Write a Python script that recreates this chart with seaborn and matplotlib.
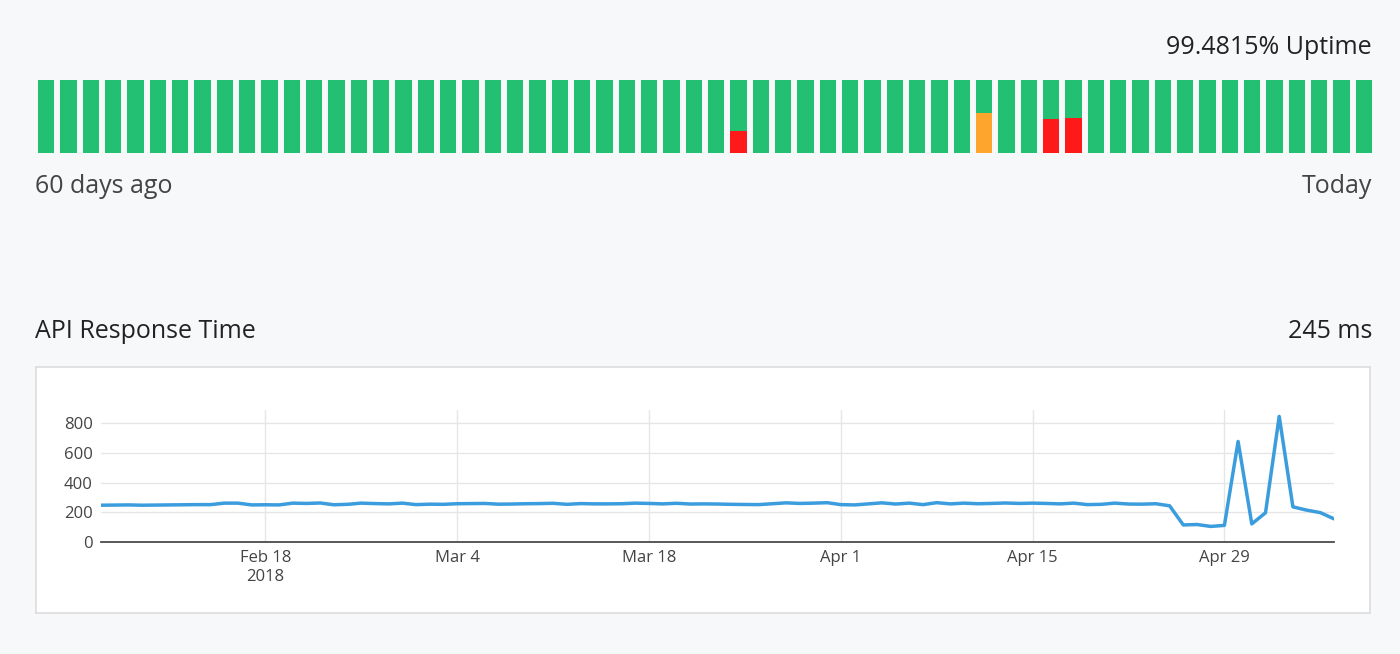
import numpy as np
import pandas as pd
import matplotlib
matplotlib.use('agg')
import matplotlib.pyplot as plt
import seaborn as sns

# ---- data ----
# 60 daily uptime bars; fraction of the bar that is "down" (coloured) and its colour
down_frac = [0.0] * 60
down_frac[31] = 0.30
down_frac[42] = 0.55
down_frac[45] = 0.47
down_frac[46] = 0.48
down_kind = {31: 'major', 42: 'minor', 45: 'major', 46: 'major'}
uptime_label = '99.4815% Uptime'
current_ms = '245 ms'

dates = pd.date_range('2018-02-06', '2018-05-07', freq='D')
resp_ms = [
    248, 249, 250, 248, 249, 250, 251, 252, 252, 262, 262, 250, 251, 250, 262, 260,
    263, 251, 254, 262, 259, 257, 262, 252, 255, 254, 258, 259, 260, 255, 256, 258,
    259, 261, 254, 259, 257, 257, 258, 262, 260, 257, 261, 256, 257, 256, 254, 253,
    252, 258, 264, 260, 262, 265, 252, 250, 257, 264, 256, 262, 252, 265, 257, 262,
    258, 260, 263, 260, 262, 260, 257, 262, 252, 254, 262, 256, 255, 258, 244, 115,
    118, 105, 112, 678, 122, 197, 847, 237, 215, 198, 156, 187, 258, 149, 149,
][:len(dates)]
df = pd.DataFrame({'date': dates, 'ms': resp_ms})

GREEN, RED, ORANGE = '#23bf72', '#ff1a1a', '#fea52d'
BG = '#f7f8fa'
TXT = '#222222'

sns.set_theme(style='whitegrid')
plt.rcParams['font.family'] = ['Open Sans', 'DejaVu Sans']

W, H = 1400, 654
fig = plt.figure(figsize=(W / 100, H / 100), dpi=100, facecolor=BG)

def px_axes(x0, y0, x1, y1):
    return fig.add_axes([x0 / W, 1 - y1 / H, (x1 - x0) / W, (y1 - y0) / H])

# ---- uptime bars ----
ax_up = px_axes(38, 80, 1372, 153)
idx = np.arange(60)
ax_up.bar(idx, [1.0] * 60, width=0.73, color=GREEN, align='edge', linewidth=0)
cols = [RED if down_kind.get(i) == 'major' else ORANGE for i in idx]
ax_up.bar(idx, down_frac, width=0.73, color=cols, align='edge', linewidth=0)
ax_up.set_xlim(0, 60 - 0.27)
ax_up.set_ylim(0, 1)
ax_up.axis('off')

fs = 18
fig.text(1372 / W, 1 - 48 / H, uptime_label, ha='right', va='center', fontsize=fs, color=TXT)
fig.text(35 / W, 1 - 186 / H, '60 days ago', ha='left', va='center', fontsize=fs, color='#444444')
fig.text(1372 / W, 1 - 186 / H, 'Today', ha='right', va='center', fontsize=fs, color='#444444')
fig.text(35 / W, 1 - 332 / H, 'API Response Time', ha='left', va='center', fontsize=fs, color=TXT)
fig.text(1372 / W, 1 - 332 / H, current_ms, ha='right', va='center', fontsize=fs, color=TXT)

# ---- response time box ----
box = px_axes(36, 367, 1370, 613)
box.set_facecolor('white')
box.set_xticks([])
box.set_yticks([])
box.grid(False)
for s in box.spines.values():
    s.set_color('#dddddd')
    s.set_linewidth(1.2)

ax = px_axes(101, 410, 1334, 542)
ax.set_facecolor('white')
sns.lineplot(data=df, x='date', y='ms', ax=ax, color='#3b9ddd', linewidth=2.5)
ax.set_xlim(dates[0], dates[-1])
ax.set_ylim(0, 890)
ax.set_yticks([0, 200, 400, 600, 800])
ticks = pd.to_datetime(['2018-02-18', '2018-03-04', '2018-03-18', '2018-04-01',
                        '2018-04-15', '2018-04-29'])
ax.set_xticks(ticks)
ax.set_xticklabels(['Feb 18\n2018'] + [f'{t:%b} {t.day}' for t in ticks[1:]])
ax.set_xlabel('')
ax.set_ylabel('')
ax.grid(True, color='#e6e6e6', linewidth=1)
for s in ['top', 'right', 'left']:
    ax.spines[s].set_visible(False)
ax.spines['bottom'].set_color('#444444')
ax.tick_params(axis='both', labelsize=12, colors='#444444', length=0, pad=6)

fig.savefig('out.png', dpi=100, facecolor=BG)
